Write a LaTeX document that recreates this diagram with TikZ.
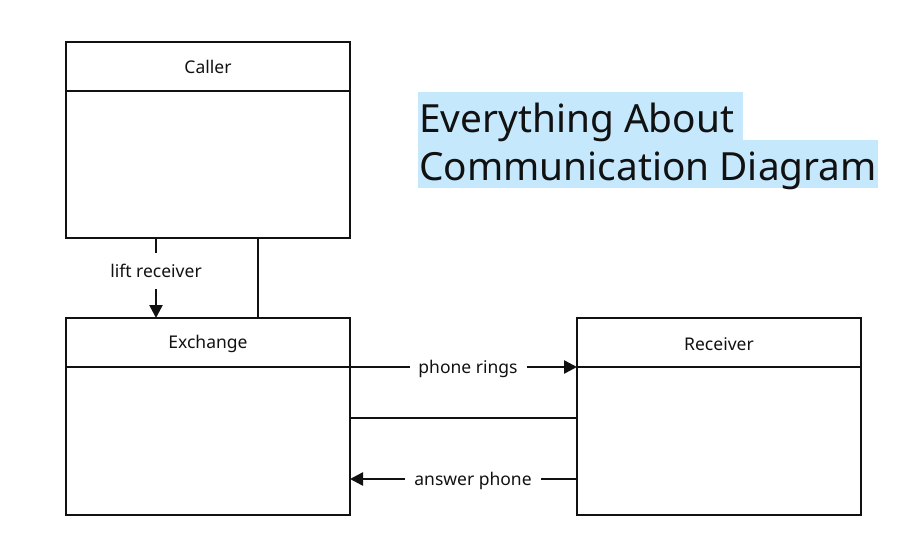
\documentclass[tikz,border=0pt]{standalone}
\usepackage{fontspec}
\setmainfont{Noto Sans}
\usetikzlibrary{arrows.meta}
\definecolor{hl}{HTML}{C5E8FD}
\definecolor{ink}{HTML}{111111}
\begin{document}
\begin{tikzpicture}[x=1pt,y=-1pt,
  box/.style={draw=ink,line width=2.5pt},
  lbl/.style={font=\fontsize{17.5}{21}\selectfont,text=ink,inner sep=0pt},
  conn/.style={draw=ink,line width=2.5pt},
  arr/.style={conn,-{Triangle[length=13pt,width=13pt]}},
  hlbox/.style={fill=hl,draw=none},
  ttl/.style={font=\fontsize{38.8}{48}\selectfont,text=ink,inner sep=0pt,anchor=base west}]
\useasboundingbox (0,0) rectangle (911,536);
% title highlight
\fill[hlbox] (418,92) rectangle (743,140);
\fill[hlbox] (418,140) rectangle (878,188);
\node[ttl] (t1) at (419,132) {Everything About};
\node[ttl] (t2) at (419,180) {Communication Diagram};
% boxes
\draw[box] (66,42) rectangle (350,238);
\draw[box] (66,91) -- (350,91);
\node[lbl] (caller) at (208,67) {Caller};
\draw[box] (66,318) rectangle (350,515);
\draw[box] (66,367) -- (350,367);
\node[lbl] (exch) at (208,344) {Exchange};
\draw[box] (577,318) rectangle (861,515);
\draw[box] (577,367) -- (861,367);
\node[lbl] (recv) at (719,344) {Receiver};
% coordinates
\coordinate (c1) at (156,238);
\coordinate (c2) at (258,238);
\coordinate (e1) at (156,318);
\coordinate (e2) at (258,318);
\coordinate (e3) at (350,367);
\coordinate (e4) at (350,418);
\coordinate (e5) at (350,479);
\coordinate (r3) at (577,367);
\coordinate (r4) at (577,418);
\coordinate (r5) at (577,479);
% lift receiver
\node[lbl] (lift) at (156,271) {lift receiver};
\draw[conn] (c1) -- (156,253);
\draw[arr] (156,289) -- (e1);
\draw[conn] (c2) -- (e2);
% phone rings
\node[lbl] (rings) at (468,369) {phone rings};
\draw[conn] (350,360) -- (e3) -- (410,367);
\draw[arr] (527,367) -- (r3);
% middle
\draw[conn] (e4) -- (r4);
% answer phone
\node[lbl] (ans) at (473,481) {answer phone};
\draw[conn] (r5) -- (541,479);
\draw[arr] (405,479) -- (e5);
\end{tikzpicture}
\end{document}
